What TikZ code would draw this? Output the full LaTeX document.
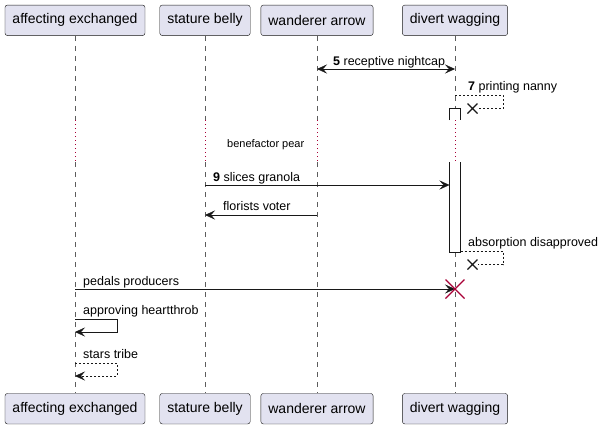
\documentclass[tikz,border=0pt]{standalone}
\usepackage{fontspec}
\setmainfont{Liberation Sans}
\usetikzlibrary{arrows.meta, calc}
\definecolor{partFill}{HTML}{E2E2F0}
\definecolor{lineC}{HTML}{181818}
\definecolor{killC}{HTML}{A80036}

\begin{document}
\begin{tikzpicture}[x=1pt, y=-1pt,
	part/.style={draw=lineC, fill=partFill, rounded corners=2.5pt, minimum height=30.5pt, inner xsep=7.5pt, font=\fontsize{14}{16}\selectfont},
	life/.style={lineC!70, dash pattern=on 5pt off 5pt},
	pause/.style={killC, dash pattern=on 1pt off 3pt},
	activ/.style={draw=lineC, fill=white},
	msg/.style={lineC},
	reply/.style={lineC, dash pattern=on 2pt off 2pt},
	lbl/.style={anchor=base west, inner sep=0pt, font=\fontsize{12.5}{15}\selectfont},
	lost/.style={lineC, line width=1.4pt},
	kill/.style={killC, line width=1.4pt},
	>={Stealth[length=10pt, width=9pt, inset=4pt]}
	]
	
	\useasboundingbox (0,0) rectangle (606,429);
	
	% participants
	\node[part] (tA) at (75,20.3) {affecting exchanged};
	\node[part] (tB) at (205,20.3) {stature belly};
	\node[part] (tC) at (317,20.3) {wanderer arrow};
	\node[part] (tD) at (455,20.3) {divert wagging};
	\node[part] (bA) at (75,408.7) {affecting exchanged};
	\node[part] (bB) at (205,408.7) {stature belly};
	\node[part] (bC) at (317,408.7) {wanderer arrow};
	\node[part] (bD) at (455,408.7) {divert wagging};
	
	% delay band
	\coordinate (dT) at (0,120);
	\coordinate (dB) at (0,162);
	
	% lifelines
	\draw[life] (tA.south) -- (tA |- dT);
	\draw[pause] (tA |- dT) -- (tA |- dB);
	\draw[life] (tA |- dB) -- (bA.north);
	\draw[life] (tB.south) -- (tB |- dT);
	\draw[pause] (tB |- dT) -- (tB |- dB);
	\draw[life] (tB |- dB) -- (bB.north);
	\draw[life] (tC.south) -- (tC |- dT);
	\draw[pause] (tC |- dT) -- (tC |- dB);
	\draw[life] (tC |- dB) -- (bC.north);
	\draw[life] (tD.south) -- (tD |- dT);
	\draw[pause] (tD |- dT) -- (tD |- dB);
	\draw[life] (tD |- dB) -- (bD.north);
	
	% activation
	\coordinate (act1) at ($(tD |- dT) + (-5.5,-12)$);
	\coordinate (act2) at ($(tD |- dB) + (-5.5,90)$);
	\fill[white] (act1) rectangle ($(tD |- dT) + (5.5,0)$);
	\draw[lineC] (tD |- dT) ++(-5.5,0) -- (act1) -- ++(11,0) -- ++(0,12);
	\draw[activ] ($(tD |- dB) + (-5.5,0)$) -- (act2) -- ++(11,0) -- ($(tD |- dB) + (5.5,0)$);
	
	% 5
	\coordinate (m5) at (0,69);
	\draw[msg, <->] (tC |- m5) -- (tD |- m5);
	\node[lbl] (l5) at ($(tC |- m5) + (16,-4)$) {\textbf{5} receptive nightcap};
	
	% 7
	\coordinate (m7) at (0,95);
	\coordinate (x7) at ($(tD |- m7) + (17.5,13.5)$);
	\draw[reply] (tD |- m7) -- ++(48,0) -- ++(0,13.5) -- ($(x7) + (5.5,0)$);
	\draw[lost] ($(x7) + (-5,-5)$) -- ++(10,10) ($(x7) + (-5,5)$) -- ++(10,-10);
	\node[lbl] (l7) at ($(tD |- m7) + (13,-4.5)$) {\textbf{7} printing nanny};
	
	% delay text
	\node[anchor=base west, inner sep=0pt, font=\fontsize{11}{13}\selectfont] (dly) at (227,147) {benefactor pear};
	
	% 9
	\coordinate (m9) at (0,185);
	\draw[msg, ->] (tB |- m9) -- ($(tD |- m9) + (-5.5,0)$);
	\node[lbl] (l9) at ($(tB |- m9) + (8,-4)$) {\textbf{9} slices granola};
	
	% florists voter
	\coordinate (m10) at (0,215);
	\draw[msg, ->] (tC |- m10) -- (tB |- m10);
	\node[lbl] (l10) at ($(tB |- m10) + (18,-4.5)$) {florists voter};
	
	% absorption disapproved
	\coordinate (m11) at (0,251);
	\coordinate (x11) at ($(tD |- m11) + (17.5,13.5)$);
	\draw[reply] ($(tD |- m11) + (5.5,0)$) -- ++(42.5,0) -- ++(0,13.5) -- ($(x11) + (5.5,0)$);
	\draw[lost] ($(x11) + (-5,-5)$) -- ++(10,10) ($(x11) + (-5,5)$) -- ++(10,-10);
	\node[lbl] (l11) at ($(tD |- m11) + (13,-5)$) {absorption disapproved};
	
	% pedals producers
	\coordinate (m12) at (0,289);
	\draw[msg, ->] (tA |- m12) -- (tD |- m12);
	\draw[kill] ($(tD |- m12) + (-9.5,-9.5)$) -- ++(19,19) ($(tD |- m12) + (-9.5,9.5)$) -- ++(19,-19);
	\node[lbl] (l12) at ($(tA |- m12) + (8,-4)$) {pedals producers};
	
	% approving heartthrob
	\coordinate (m13) at (0,319);
	\draw[msg, ->] (tA |- m13) -- ++(42,0) -- ++(0,13) -- ($(tA |- m13) + (0,13)$);
	\node[lbl] (l13) at ($(tA |- m13) + (8,-4.5)$) {approving heartthrob};
	
	% stars tribe
	\coordinate (m14) at (0,363);
	\draw[reply, ->] (tA |- m14) -- ++(42,0) -- ++(0,13) -- ($(tA |- m14) + (0,13)$);
	\node[lbl] (l14) at ($(tA |- m14) + (8,-5)$) {stars tribe};
	
\end{tikzpicture}
\end{document}
